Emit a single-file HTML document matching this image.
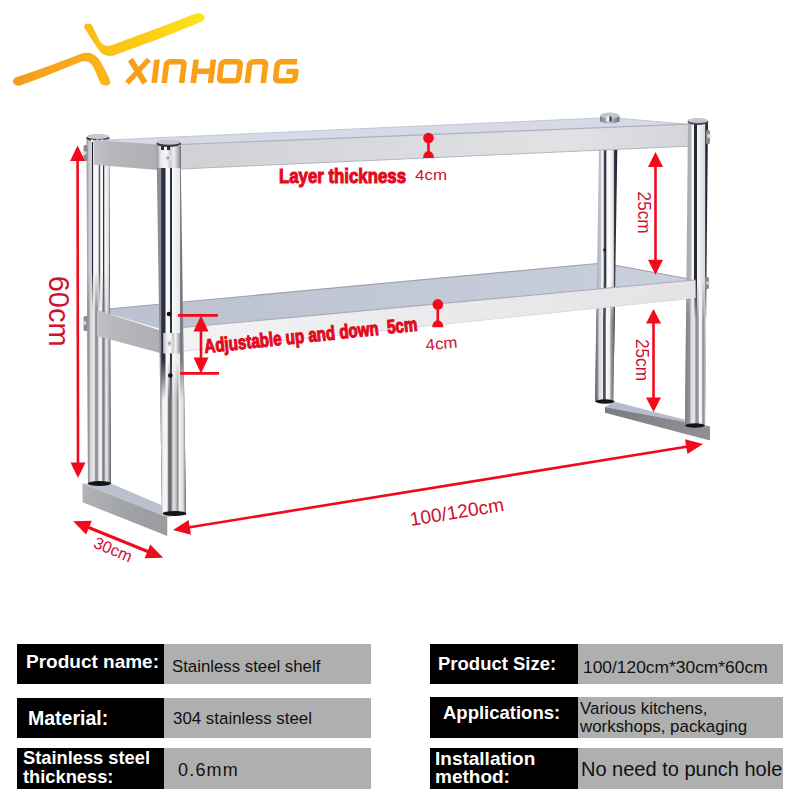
<!DOCTYPE html>
<html><head><meta charset="utf-8">
<style>
html,body{margin:0;padding:0;background:#fff;}
body{width:800px;height:800px;position:relative;overflow:hidden;font-family:"Liberation Sans",sans-serif;}
svg{position:absolute;left:0;top:0;}
.k{position:absolute;background:#000;color:#fff;font-weight:bold;font-size:19px;line-height:18px;}
.g{position:absolute;background:#afafaf;color:#111;font-size:16px;line-height:18px;}
.k span,.g span{position:absolute;white-space:nowrap;}
</style></head><body>
<svg width="800" height="630" viewBox="0 0 800 630">
<defs>
<linearGradient id="gBL" x1="0" x2="1" y1="0" y2="0"><stop offset="0" stop-color="#8e9096"/><stop offset="0.1" stop-color="#c8c9cd"/><stop offset="0.22" stop-color="#d0d1d4"/><stop offset="0.235" stop-color="#1e2130"/><stop offset="0.275" stop-color="#2a2d3a"/><stop offset="0.29" stop-color="#fafafa"/><stop offset="0.45" stop-color="#f4f4f5"/><stop offset="0.49" stop-color="#e8e8ea"/><stop offset="0.51" stop-color="#50525c"/><stop offset="0.56" stop-color="#50525c"/><stop offset="0.58" stop-color="#fafafa"/><stop offset="0.68" stop-color="#f6f6f7"/><stop offset="0.69" stop-color="#f0f0f2"/><stop offset="0.7" stop-color="#2a2c38"/><stop offset="0.73" stop-color="#2a2c38"/><stop offset="0.745" stop-color="#fafafa"/><stop offset="0.9" stop-color="#e4e5e8"/><stop offset="0.93" stop-color="#b8b9bd"/><stop offset="0.95" stop-color="#3a3c46"/><stop offset="1" stop-color="#2a2c36"/></linearGradient>
<linearGradient id="gFL" x1="0" x2="1" y1="0" y2="0"><stop offset="0" stop-color="#8a8c92"/><stop offset="0.14" stop-color="#8e9096"/><stop offset="0.16" stop-color="#5a5e6c"/><stop offset="0.18" stop-color="#2a2e3e"/><stop offset="0.29" stop-color="#2a2e3e"/><stop offset="0.32" stop-color="#fafafa"/><stop offset="0.44" stop-color="#fafafa"/><stop offset="0.46" stop-color="#303448"/><stop offset="0.51" stop-color="#303448"/><stop offset="0.53" stop-color="#fafafa"/><stop offset="0.78" stop-color="#e8e8ea"/><stop offset="0.82" stop-color="#6a6d75"/><stop offset="0.9" stop-color="#8a8c92"/><stop offset="1" stop-color="#555555"/></linearGradient>
<linearGradient id="gBR" x1="0" x2="1" y1="0" y2="0"><stop offset="0" stop-color="#a8acb8"/><stop offset="0.25" stop-color="#c0c4ce"/><stop offset="0.3" stop-color="#fafafa"/><stop offset="0.36" stop-color="#f0f0f2"/><stop offset="0.4" stop-color="#50535e"/><stop offset="0.47" stop-color="#2a2d3a"/><stop offset="0.52" stop-color="#f8f8f8"/><stop offset="0.62" stop-color="#ffffff"/><stop offset="0.8" stop-color="#e4e5e8"/><stop offset="0.86" stop-color="#30333e"/><stop offset="1" stop-color="#1e2029"/></linearGradient>
<linearGradient id="gFR" x1="0" x2="1" y1="0" y2="0"><stop offset="0" stop-color="#9a9ea8"/><stop offset="0.1" stop-color="#a8acb6"/><stop offset="0.27" stop-color="#b4b8c2"/><stop offset="0.3" stop-color="#fafafa"/><stop offset="0.38" stop-color="#f4f4f6"/><stop offset="0.41" stop-color="#2a2d3a"/><stop offset="0.5" stop-color="#1f2230"/><stop offset="0.53" stop-color="#fafafa"/><stop offset="0.6" stop-color="#f0f0f2"/><stop offset="0.85" stop-color="#dcdde2"/><stop offset="0.9" stop-color="#2a2d3a"/><stop offset="1" stop-color="#1e2029"/></linearGradient>
<linearGradient id="gBLl" x1="0" x2="1" y1="0" y2="0"><stop offset="0" stop-color="#7e8086"/><stop offset="0.1" stop-color="#9a9ba0"/><stop offset="0.18" stop-color="#dcdde0"/><stop offset="0.32" stop-color="#e8e8ea"/><stop offset="0.38" stop-color="#8a8b90"/><stop offset="0.46" stop-color="#9c9da2"/><stop offset="0.52" stop-color="#f4f4f5"/><stop offset="0.62" stop-color="#e6e6e8"/><stop offset="0.68" stop-color="#6e7076"/><stop offset="0.74" stop-color="#9a9ba0"/><stop offset="0.8" stop-color="#eeeeef"/><stop offset="0.88" stop-color="#c8c9cc"/><stop offset="1" stop-color="#626469"/></linearGradient>
<linearGradient id="gFLl" x1="0" x2="1" y1="0" y2="0"><stop offset="0" stop-color="#7a7c82"/><stop offset="0.12" stop-color="#929398"/><stop offset="0.22" stop-color="#f2f2f3"/><stop offset="0.36" stop-color="#f6f6f7"/><stop offset="0.42" stop-color="#5a5c62"/><stop offset="0.5" stop-color="#76787d"/><stop offset="0.56" stop-color="#e2e2e4"/><stop offset="0.66" stop-color="#c4c5c8"/><stop offset="0.72" stop-color="#8a8b90"/><stop offset="0.78" stop-color="#f0f0f1"/><stop offset="0.9" stop-color="#dcdde0"/><stop offset="1" stop-color="#6a6c71"/></linearGradient>
<linearGradient id="gBRl" x1="0" x2="1" y1="0" y2="0"><stop offset="0" stop-color="#5a5c62"/><stop offset="0.12" stop-color="#8a8c92"/><stop offset="0.18" stop-color="#dcdde0"/><stop offset="0.33" stop-color="#e8e8ea"/><stop offset="0.38" stop-color="#3a3c44"/><stop offset="0.45" stop-color="#5a5c64"/><stop offset="0.5" stop-color="#fafafa"/><stop offset="0.64" stop-color="#eeeeef"/><stop offset="0.7" stop-color="#9a9ca2"/><stop offset="0.8" stop-color="#7a7c82"/><stop offset="0.85" stop-color="#3a3c44"/><stop offset="1" stop-color="#4a4c54"/></linearGradient>
<linearGradient id="gFRl" x1="0" x2="1" y1="0" y2="0"><stop offset="0" stop-color="#7a7c82"/><stop offset="0.2" stop-color="#929498"/><stop offset="0.27" stop-color="#dcdde0"/><stop offset="0.43" stop-color="#e6e6e8"/><stop offset="0.47" stop-color="#8a8c92"/><stop offset="0.58" stop-color="#9a9ca2"/><stop offset="0.62" stop-color="#f8f8f9"/><stop offset="0.73" stop-color="#eeeeef"/><stop offset="0.77" stop-color="#8a8c92"/><stop offset="0.84" stop-color="#a0a2a8"/><stop offset="0.88" stop-color="#e0e0e2"/><stop offset="0.94" stop-color="#c8c9cc"/><stop offset="1" stop-color="#4a4c52"/></linearGradient>
<linearGradient id="gPlateR" x1="0" x2="1" y1="0" y2="0"><stop offset="0" stop-color="#7c7d83"/><stop offset="1" stop-color="#909196"/></linearGradient>
<linearGradient id="gPlateL" x1="0" x2="1" y1="0" y2="0"><stop offset="0" stop-color="#b2b3b7"/><stop offset="0.5" stop-color="#a2a3a7"/><stop offset="1" stop-color="#9a9b9f"/></linearGradient>
<linearGradient id="gCap" x1="0" x2="1" y1="0" y2="0"><stop offset="0" stop-color="#7a7d88"/><stop offset="0.3" stop-color="#a8abb6"/><stop offset="0.5" stop-color="#c8cad2"/><stop offset="0.8" stop-color="#8e919c"/><stop offset="1" stop-color="#6a6d78"/></linearGradient>
<linearGradient id="gBrk" x1="0" x2="1" y1="0" y2="0"><stop offset="0" stop-color="#9a9ca2"/><stop offset="0.15" stop-color="#e6e7ea"/><stop offset="0.4" stop-color="#fafafa"/><stop offset="0.55" stop-color="#c8c9cd"/><stop offset="0.7" stop-color="#f2f2f4"/><stop offset="0.9" stop-color="#a8aab0"/><stop offset="1" stop-color="#6a6c72"/></linearGradient>
<linearGradient id="gTop2" x1="0" x2="1" y1="0" y2="0"><stop offset="0" stop-color="#bcc1d0"/><stop offset="0.6" stop-color="#c4c9d7"/><stop offset="1" stop-color="#cacfdc"/></linearGradient>
<linearGradient id="gFace2" x1="0" x2="1" y1="0" y2="0"><stop offset="0" stop-color="#f4f4f5"/><stop offset="0.4" stop-color="#ececee"/><stop offset="1" stop-color="#e4e4e6"/></linearGradient>
<linearGradient id="gTopFace" x1="0" x2="1" y1="0" y2="0"><stop offset="0" stop-color="#cfd0d4"/><stop offset="0.45" stop-color="#dadbde"/><stop offset="0.78" stop-color="#e2e2e5"/><stop offset="1" stop-color="#d4d5d9"/></linearGradient>
<linearGradient id="gSide" x1="0" x2="1" y1="0" y2="0"><stop offset="0" stop-color="#c2c2c6"/><stop offset="0.25" stop-color="#b8b8bc"/><stop offset="1" stop-color="#afafb3"/></linearGradient>
<linearGradient id="gLogo1" gradientUnits="userSpaceOnUse" x1="12" x2="110" y1="0" y2="0"><stop offset="0" stop-color="#f69a1c"/><stop offset="0.6" stop-color="#f8aa1b"/><stop offset="1" stop-color="#fab81a"/></linearGradient>
<linearGradient id="gLogo2" gradientUnits="userSpaceOnUse" x1="84" x2="205" y1="0" y2="0"><stop offset="0" stop-color="#fbbc17"/><stop offset="0.5" stop-color="#fccc16"/><stop offset="1" stop-color="#fde61d"/></linearGradient>
<linearGradient id="m0g" gradientUnits="userSpaceOnUse" x1="0" y1="280.0" x2="0" y2="320.0"><stop offset="0" stop-color="#000"/><stop offset="1" stop-color="#fff"/></linearGradient><mask id="m0" maskUnits="userSpaceOnUse" x="0" y="0" width="800" height="630"><rect x="0" y="0" width="800" height="630" fill="url(#m0g)"/></mask>
<linearGradient id="m1g" gradientUnits="userSpaceOnUse" x1="0" y1="270.0" x2="0" y2="310.0"><stop offset="0" stop-color="#000"/><stop offset="1" stop-color="#fff"/></linearGradient><mask id="m1" maskUnits="userSpaceOnUse" x="0" y="0" width="800" height="630"><rect x="0" y="0" width="800" height="630" fill="url(#m1g)"/></mask>
<linearGradient id="m2g" gradientUnits="userSpaceOnUse" x1="0" y1="360.0" x2="0" y2="400.0"><stop offset="0" stop-color="#000"/><stop offset="1" stop-color="#fff"/></linearGradient><mask id="m2" maskUnits="userSpaceOnUse" x="0" y="0" width="800" height="630"><rect x="0" y="0" width="800" height="630" fill="url(#m2g)"/></mask>
<linearGradient id="m3g" gradientUnits="userSpaceOnUse" x1="0" y1="280.0" x2="0" y2="320.0"><stop offset="0" stop-color="#000"/><stop offset="1" stop-color="#fff"/></linearGradient><mask id="m3" maskUnits="userSpaceOnUse" x="0" y="0" width="800" height="630"><rect x="0" y="0" width="800" height="630" fill="url(#m3g)"/></mask>
</defs>
<path d="M13,80.8 C13.5,78.5 15,77.8 17,77 C32,72 60,62 79,54.4 C87,51.5 93,52.5 98,58 C102,63 106,71 109.5,79 C111,83 110,85.5 106,85.5 C102.5,85.5 100.5,84 99.5,81.5 C97.5,76 95,69 91.5,64.5 C88.5,61 84,60.5 79,62.5 C62,69.5 40,78.5 20,85.5 C16,86.5 13,84 13,80.8 Z" fill="url(#gLogo1)"/>
<path d="M84.2,27.5 C84,24.5 86,23.6 88.3,23.6 C90.5,23.6 92,24.8 93,27.2 L98.5,38.5 C101,44 104,46.5 110,45.8 L160,27.25 L194,14.3 C198,12.8 202,13 204,15.5 C205.5,17.5 204.5,20.5 201,22 L160,38.5 L115,55 C108,57.5 102,55 99,50 C96,46 89,35.5 84.2,27.5 Z" fill="url(#gLogo2)"/>
<g transform="translate(0,83) skewX(-7) translate(0,-83)" fill="none" stroke="#f9a01a" stroke-width="5.6" stroke-linejoin="round"><path d="M127.5,59.5 L145,83 M146,59.5 L127,83" /><path d="M154.2,59.5 V83" /><path d="M164.2,83 V65.5 Q164.2,61.8 167.9,61.8 H178 Q181.7,61.8 181.7,65.5 V83" /><path d="M193.3,59.5 V83 M210.5,59.5 V83 M193.3,71.2 H210.5" /><path d="M223,61.8 H234 Q238,61.8 238,65.8 V76.8 Q238,80.8 234,80.8 H223 Q219,80.8 219,76.8 V65.8 Q219,61.8 223,61.8 Z" /><path d="M247.3,83 V65.5 Q247.3,61.8 251,61.8 H259.5 Q263.2,61.8 263.2,65.5 V83" /><path d="M294.5,61.8 H279 Q275,61.8 275,65.8 V76.8 Q275,80.8 279,80.8 H290.5 Q294.5,80.8 294.5,76.8 V71.5 H285" /></g>
<polygon points="613.6,401.4 690,421 710,426.6 605,407" fill="#b6bbcd"/>
<polygon points="605,407 710,426.6 710,440.4 605,412.8" fill="url(#gPlateR)"/>
<polygon points="82.5,483.5 111,483.5 163.5,506 186,513.5 167.25,517.25" fill="#bcc0ce"/>
<polygon points="82.5,483.5 167.25,517.25 167.25,536 82.5,502.25" fill="url(#gPlateL)"/>
<polygon points="97,310 603,263 695,280 162,329.5" fill="url(#gTop2)"/>
<polyline points="97,310 603,263 695,280" fill="none" stroke="#9ca1ae" stroke-width="1.2"/>
<polygon points="599.5,118 617.8,118 613.3,402 595,402" fill="url(#gBR)"/><g mask="url(#m0)"><polygon points="599.5,118 617.8,118 613.3,402 595,402" fill="url(#gBRl)"/></g>
<polygon points="86.5,137 109.3,137 110.8,484 88,484" fill="url(#gBL)"/><g mask="url(#m1)"><polygon points="86.5,137 109.3,137 110.8,484 88,484" fill="url(#gBLl)"/></g>
<ellipse cx="97.8" cy="138" rx="11.5" ry="3.4" fill="#3a3c48"/><ellipse cx="97.8" cy="136.4" rx="11" ry="2.6" fill="#c8cad0"/><rect x="91" y="139.5" width="2.5" height="2.5" fill="#fff"/><rect x="96" y="139.5" width="2.5" height="2.5" fill="#fff"/><rect x="101" y="139.5" width="2.5" height="2.5" fill="#fff"/>
<rect x="83.5" y="145" width="4" height="16" rx="1.5" fill="#8a8c92"/><circle cx="84.5" cy="153" r="2" fill="#d8d9dc"/>
<rect x="83.5" y="316" width="4" height="15" rx="1.5" fill="#8a8c92"/><circle cx="84.5" cy="323" r="2" fill="#d8d9dc"/>
<polygon points="94,140.6 610,117.6 688,124.2 158,145.4" fill="#d6d9e6"/>
<polyline points="94,140.6 610,117.6 688,124.2" fill="none" stroke="#c4c7d1" stroke-width="1"/>
<polygon points="158,145.4 688,124.2 688,146.2 158,170" fill="url(#gTopFace)"/>
<line x1="158" y1="145.4" x2="688" y2="124.2" stroke="#aeb1bb" stroke-width="1.2"/>
<line x1="158" y1="170" x2="688" y2="146.2" stroke="#b5b6ba" stroke-width="1"/>
<polygon points="94,140 158,144.5 158,170 94,164.8" fill="url(#gSide)"/>
<path d="M600,116 L600,121.5 Q609.75,126 619.5,121.5 L619.5,116 Z" fill="url(#gCap)"/>
<ellipse cx="609.75" cy="115.5" rx="9.75" ry="3" fill="#c2c5ce"/>
<rect x="606.5" y="116.5" width="3" height="5" fill="#f4f4f6"/><rect x="609.5" y="116.5" width="2" height="5" fill="#2a2c36"/>
<polygon points="162,329.5 695,280 695,298 162,353.5" fill="url(#gFace2)"/>
<line x1="162" y1="329.5" x2="695" y2="280" stroke="#a9adb8" stroke-width="1.2"/>
<line x1="162" y1="353.5" x2="695" y2="298" stroke="#dcdcde" stroke-width="1"/>
<polygon points="97,310 162,331 162,353.5 97,336" fill="url(#gSide)"/>
<polygon points="156.5,143 180.5,143 186,515 162,515" fill="url(#gFL)"/><g mask="url(#m2)"><polygon points="156.5,143 180.5,143 186,515 162,515" fill="url(#gFLl)"/></g>
<rect x="157" y="146" width="24" height="22" fill="url(#gBrk)"/>
<circle cx="168" cy="158" r="3.2" fill="#e2e3e6"/><circle cx="168" cy="158" r="1.4" fill="#9a9ca2"/>
<rect x="163" y="333" width="18" height="20.5" fill="url(#gBrk)"/>
<circle cx="169.5" cy="343.5" r="3.2" fill="#e2e3e6"/><circle cx="169.5" cy="343.5" r="1.4" fill="#9a9ca2"/>
<ellipse cx="168.8" cy="143.6" rx="12.2" ry="3.4" fill="#3a3c48"/><ellipse cx="168.8" cy="142.2" rx="11.6" ry="2.5" fill="#c6c8ce"/><rect x="161" y="146" width="3" height="4" fill="#2a2c36"/><rect x="167" y="146" width="3" height="4" fill="#2a2c36"/>
<polygon points="688,121 708,121 705,427 685,427" fill="url(#gFR)"/><g mask="url(#m3)"><polygon points="688,121 708,121 705,427 685,427" fill="url(#gFRl)"/></g>
<ellipse cx="698" cy="121.8" rx="10.6" ry="3.2" fill="#4a4c58"/><ellipse cx="698" cy="120.5" rx="10.1" ry="2.4" fill="#c6c8ce"/>
<rect x="706" y="130" width="4" height="14" rx="1.5" fill="#8a8c92"/><circle cx="709" cy="136" r="2" fill="#d8d9dc"/>
<rect x="705" y="277" width="4" height="12" rx="1.5" fill="#8a8c92"/><circle cx="708" cy="283" r="1.8" fill="#d8d9dc"/>
<polygon points="686,280.9 695.6,280 695.6,298 686,299" fill="#e4e4e6"/>
<line x1="686" y1="280.9" x2="695.6" y2="280" stroke="#a9adb8" stroke-width="1.2"/>
<ellipse cx="174.5" cy="513.5" rx="12" ry="2.6" fill="#151515"/>
<ellipse cx="99.4" cy="483.5" rx="11.6" ry="2.4" fill="#151515"/>
<ellipse cx="605" cy="401.5" rx="9.5" ry="2.2" fill="#151515"/>
<ellipse cx="695" cy="425.5" rx="10" ry="2.2" fill="#151515"/>
<circle cx="604.5" cy="250" r="1.4" fill="#222"/>
<circle cx="169" cy="314" r="2.3" fill="#111"/><circle cx="170.3" cy="375.5" r="2.3" fill="#111"/>
<line x1="77.6" y1="159.4" x2="78" y2="464.1" stroke="#f20a1c" stroke-width="2.6"/>
<polygon points="77.6,145.5 70.1,161 85.1,161" fill="#f20a1c"/>
<polygon points="78,478 70.5,462.5 85.5,462.5" fill="#f20a1c"/>
<line x1="655.5" y1="165.5" x2="655.5" y2="261.3" stroke="#f20a1c" stroke-width="2.6"/>
<polygon points="655.5,152 648,167 663,167" fill="#f20a1c"/>
<polygon points="655.5,274.8 648,259.8 663,259.8" fill="#f20a1c"/>
<line x1="653.5" y1="322.1" x2="653.5" y2="398.9" stroke="#f20a1c" stroke-width="2.6"/>
<polygon points="653.5,309 646,323.6 661,323.6" fill="#f20a1c"/>
<polygon points="653.5,412 646,397.4 661,397.4" fill="#f20a1c"/>
<line x1="201" y1="329.8" x2="201" y2="359" stroke="#f20a1c" stroke-width="2.6"/>
<polygon points="201,315.4 193.5,331.4 208.5,331.4" fill="#f20a1c"/>
<polygon points="201,373.4 193.5,357.4 208.5,357.4" fill="#f20a1c"/>
<line x1="178" y1="315.4" x2="218" y2="315.4" stroke="#f5091b" stroke-width="2.6"/>
<line x1="180" y1="373.4" x2="219" y2="373.4" stroke="#f5091b" stroke-width="2.6"/>
<line x1="87.4" y1="527" x2="149" y2="552" stroke="#f20a1c" stroke-width="3"/>
<polygon points="73.2,521.3 86.1,534.6 91.8,520.7" fill="#f20a1c"/>
<polygon points="163.2,557.7 144.6,558.3 150.3,544.4" fill="#f20a1c"/>
<line x1="188.1" y1="527.5" x2="687.9" y2="446.5" stroke="#f20a1c" stroke-width="2.6"/>
<polygon points="173,530 191,534.7 188.6,519.9" fill="#f20a1c"/>
<polygon points="703,444 687.4,454.1 685,439.3" fill="#f20a1c"/>
<circle cx="428.5" cy="138" r="5.3" fill="#f5091b"/><line x1="428.5" y1="138" x2="428.5" y2="155" stroke="#f5091b" stroke-width="2.6"/><path d="M423,158 A5.5,7 0 0 1 434,158 Z" fill="#f5091b"/>
<circle cx="437.8" cy="304.4" r="5.3" fill="#f5091b"/><line x1="437.8" y1="304.4" x2="437.8" y2="324.2" stroke="#f5091b" stroke-width="2.6"/><path d="M432.3,327.2 A5.5,7 0 0 1 443.3,327.2 Z" fill="#f5091b"/>
<text x="279" y="183.4" font-family="Liberation Sans" font-weight="bold" font-size="21" fill="#e3091e" stroke="#e3091e" stroke-width="1.1" textLength="127" lengthAdjust="spacingAndGlyphs">Layer thickness</text>
<text x="415" y="180.3" font-family="Liberation Sans" font-size="15.5" fill="#d01030" textLength="32" lengthAdjust="spacingAndGlyphs">4cm</text>
<text x="426" y="350.4" font-family="Liberation Sans" font-size="16" fill="#d01030" textLength="32" lengthAdjust="spacingAndGlyphs" transform="rotate(-5 426 350.4)">4cm</text>
<text x="205" y="353" font-family="Liberation Sans" font-weight="bold" font-size="19.5" fill="#e3091e" stroke="#e3091e" stroke-width="1.1" textLength="214" lengthAdjust="spacingAndGlyphs" transform="rotate(-6 205 353)">Adjustable up and down&#160; 5cm</text>
<text x="0" y="0" font-family="Liberation Sans" font-size="30" fill="#d01030" textLength="71" lengthAdjust="spacingAndGlyphs" transform="translate(49,275.7) rotate(90)">60cm</text>
<text x="0" y="0" font-family="Liberation Sans" font-size="18" fill="#d01030" textLength="42" lengthAdjust="spacingAndGlyphs" transform="translate(637.5,191.6) rotate(90)">25cm</text>
<text x="0" y="0" font-family="Liberation Sans" font-size="18" fill="#d01030" textLength="42" lengthAdjust="spacingAndGlyphs" transform="translate(636,339) rotate(90)">25cm</text>
<text x="0" y="0" font-family="Liberation Sans" font-size="16.5" fill="#d01030" textLength="40" lengthAdjust="spacingAndGlyphs" transform="translate(92.5,547) rotate(23)">30cm</text>
<text x="0" y="0" font-family="Liberation Sans" font-size="19" fill="#d01030" textLength="95" lengthAdjust="spacingAndGlyphs" transform="translate(411,526) rotate(-9.2)">100/120cm</text>
</svg>

<div class="k" style="left:17px;top:644px;width:147px;height:40px;"><span style="left:9px;top:9px;">Product name:</span></div>
<div class="g" style="left:164px;top:644px;width:207px;height:40px;"><span style="left:8px;top:14px;font-size:16.8px;">Stainless steel shelf</span></div>
<div class="k" style="left:17px;top:698px;width:147px;height:40px;"><span style="left:11px;top:11px;font-size:19.5px;">Material:</span></div>
<div class="g" style="left:164px;top:698px;width:207px;height:40px;"><span style="left:9px;top:12px;font-size:16.9px;">304 stainless steel</span></div>
<div class="k" style="left:17px;top:748px;width:147px;height:41px;"><span style="left:6px;top:-0.5px;font-size:18.3px;line-height:19.4px;">Stainless steel<br>thickness:</span></div>
<div class="g" style="left:164px;top:748px;width:207px;height:41px;"><span style="left:14px;top:13px;font-size:18px;letter-spacing:1.2px;">0.6mm</span></div>

<div class="k" style="left:430px;top:644px;width:148px;height:40px;"><span style="left:8px;top:11px;font-size:18.5px;">Product Size:</span></div>
<div class="g" style="left:578px;top:644px;width:205px;height:40px;"><span style="left:5px;top:14px;font-size:17.4px;">100/120cm*30cm*60cm</span></div>
<div class="k" style="left:430px;top:697px;width:148px;height:41px;"><span style="left:13px;top:7px;font-size:18.5px;">Applications:</span></div>
<div class="g" style="left:578px;top:697px;width:205px;height:41px;"><span style="left:2px;top:2.5px;font-size:16.9px;line-height:18.4px;">Various kitchens,<br>workshops, packaging</span></div>
<div class="k" style="left:430px;top:748px;width:148px;height:41px;"><span style="left:5px;top:2px;line-height:17.6px;">Installation<br>method:</span></div>
<div class="g" style="left:578px;top:748px;width:205px;height:41px;"><span style="left:3px;top:12px;font-size:20px;">No need to punch hole</span></div>
</body></html>
